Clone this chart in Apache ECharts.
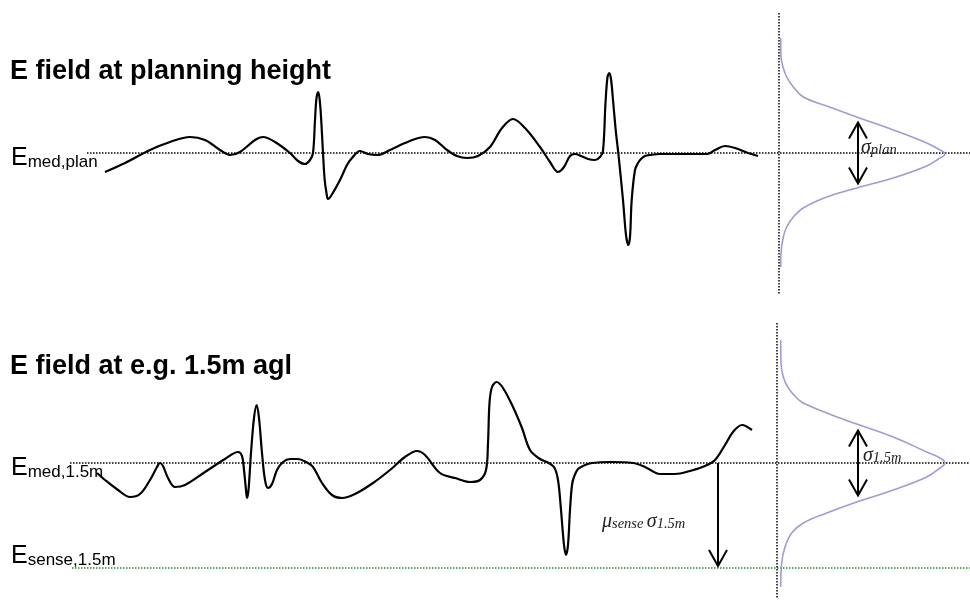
<!DOCTYPE html>
<html>
<head>
<meta charset="utf-8">
<script src="https://cdn.jsdelivr.net/npm/echarts@6/dist/echarts.min.js"></script>
<style>
  html, body { margin: 0; padding: 0; background: #ffffff; }
  #chart { width: 970px; height: 600px; }
</style>
</head>
<body>
<div id="chart"></div>
<script>
// ---- Field trace at planning height (time, deviation from median) ----
const timePlan = [105,125,150,170,190,205,220,230,240,255,263,275,290,298,305,310,313,315,316.5,318.3,320,321.5,323,324.7,326.5,328,331,340,347,352,360,368,377,390,405,425,435,447,457,467,478,490,502,513,525,540,550,558,564,570,575,581,588,595,600,603,605.5,607.5,609.3,611,613,616,618.3,623,626,628.3,630,631.7,635,638,641,645,650,660,690,707,715,725,735,748,758];
const fieldPlan = [-19,-10,3,11,16,13,3,-2,1,13,16,11,0,-8,-11,-7,0,33,55,61,50,28,0,-27,-40,-46,-43,-27,-12,-5,2,-1,-2,3,10,16,13,3,-3,-5,-3,6,25,34,25,6,-9,-19,-14,-3,-1,-3,-6,-7,-4,2,50,76,80,74,53,20,0,-47,-82,-92,-84,-47,-17,-10,-6,-3,-2,-1,-1,-1,3,7,5,0,-3];

// ---- Field trace at 1.5 m above ground ----
const time15 = [97,105,118,130,140,150,157,160,163,168,175,185,205,225,238,242,244,246,247,248.5,251,254,256.7,259,262,265,268,272,277,283,290,298,306,313,322,332,342,355,373,390,405,417,425,440,455,470,480,486,488,489.5,492,496.7,503,513,522,530,540,547,554,558,561,564,566,568,570,572,574,578,585,592,610,633,645,660,675,690,705,715,725,733,742,752];
const field15 = [-10,-17,-27,-34,-31,-17,-4,0,-3,-15,-24,-22,-9,4,11,7,-7,-27,-35,-27,10,45,58,45,10,-17,-25,-21,-7,1,4,4,1,-4,-20,-32,-35,-31,-20,-7,6,12,8,-10,-15,-19,-17,-7,20,60,76,81,75,56,35,13,4,1,-4,-17,-47,-82,-92,-82,-47,-22,-14,-6,-2,0,1,0,-4,-11,-11,-8,-3,3,18,31,38,33];

// ---- Distributions of the field (level vs. density, drawn sideways) ----
const levelsPlan  = [115,96,85,76,66,56,47,36,23,10,4,-1,-6,-13,-25,-35,-44,-55,-64,-74,-84,-100,-114];
const densityPlan = [1.7,2,4.3,7.7,14.3,24.3,47.7,77.7,114.3,147.7,159.3,166,159.3,147.7,114.3,77.7,47.7,24.3,14.3,7.7,4.3,2,1.7];
const levels15    = [123,100,86,75,65,60,50,39,26,11,5,0,-5,-14,-27,-39,-50,-60,-70,-84,-100,-124];
const density15   = [3.7,4,6.3,11.3,19.7,26.3,49.7,79.7,116.3,149.7,163,168,163,149.7,116.3,79.7,49.7,26.3,14.7,8,4.7,3.7];

// ---- Spread and sensing threshold ----
const sigmaPlan = 30.5;
const sigma15 = 32.5;
const senseLevel15 = -105;

// ---- Layout of the reference lines and arrows (axis units) ----
const axisMax = 970;
const distAxisPlan = 779, distAxis15 = 777;
const distSpanPlan = [140, -142], distSpan15 = [140, -135];
const medianStartPlan = 87, medianStart15 = 70, senseStart = 72;
const sigmaArrowX = 858, muArrowX = 718, muArrowTip = -103;
const headHalfWidth = 9, headLength = 16;

const pairs = (xs, ys) => xs.map((x, i) => [x, ys[i]]);
const sideways = (base, dens, lv) => lv.map((l, i) => [base + dens[i], l]);
// open "V" arrow head; dir = 1 points up, -1 points down
const head = (x, tip, dir) => [[x - headHalfWidth, tip - dir * headLength], [x, tip], [x + headHalfWidth, tip - dir * headLength]];

const dotted = { color: '#000000', width: 1.5, type: [1.5, 1.5], cap: 'butt' };
const greenDotted = { color: '#2a8f2a', width: 1.5, type: [1.5, 1.5], cap: 'butt' };
const trace = { color: '#000000', width: 2.2 };
const bell = { color: '#9d9dd4', width: 1.6 };
const arrow = { color: '#000000', width: 2, join: 'miter' };

function line(grid, data, style, smooth, z) {
  return {
    type: 'line', xAxisIndex: grid, yAxisIndex: grid, data: data,
    symbol: 'none', smooth: smooth || false, clip: false,
    lineStyle: style, silent: true, z: z || 2, animation: false
  };
}

const chart = echarts.init(document.getElementById('chart'), null, { renderer: 'canvas' });

chart.setOption({
  animation: false,
  backgroundColor: '#ffffff',
  grid: [
    { left: 0, right: 0, top: 0, height: 306 },
    { left: 0, right: 0, top: 326, height: 274 }
  ],
  xAxis: [
    { type: 'value', gridIndex: 0, min: 0, max: axisMax, show: false },
    { type: 'value', gridIndex: 1, min: 0, max: axisMax, show: false }
  ],
  yAxis: [
    { type: 'value', gridIndex: 0, min: -153, max: 153, show: false },
    { type: 'value', gridIndex: 1, min: -137, max: 137, show: false }
  ],
  series: [
    // planning height panel
    line(0, [[medianStartPlan, 0], [axisMax, 0]], dotted),
    line(0, [[distAxisPlan, distSpanPlan[0]], [distAxisPlan, distSpanPlan[1]]], dotted),
    line(0, pairs(timePlan, fieldPlan), trace, 0.35, 3),
    line(0, sideways(distAxisPlan, densityPlan, levelsPlan), bell, 0.4, 3),
    line(0, [[sigmaArrowX, sigmaPlan], [sigmaArrowX, -sigmaPlan]], arrow, false, 4),
    line(0, head(sigmaArrowX, sigmaPlan, 1), arrow, false, 4),
    line(0, head(sigmaArrowX, -sigmaPlan, -1), arrow, false, 4),
    // 1.5 m panel
    line(1, [[medianStart15, 0], [axisMax, 0]], dotted),
    line(1, [[senseStart, senseLevel15], [axisMax, senseLevel15]], greenDotted),
    line(1, [[distAxis15, distSpan15[0]], [distAxis15, distSpan15[1]]], dotted),
    line(1, pairs(time15, field15), trace, 0.35, 3),
    line(1, sideways(distAxis15, density15, levels15), bell, 0.4, 3),
    line(1, [[sigmaArrowX, sigma15], [sigmaArrowX, -sigma15]], arrow, false, 4),
    line(1, head(sigmaArrowX, sigma15, 1), arrow, false, 4),
    line(1, head(sigmaArrowX, -sigma15, -1), arrow, false, 4),
    line(1, [[muArrowX, 0], [muArrowX, muArrowTip]], arrow, false, 4),
    line(1, head(muArrowX, muArrowTip, -1), arrow, false, 4)
  ]
});

// ---- Text labels, placed from the axis positions ----
const px = (grid, pt) => chart.convertToPixel({ xAxisIndex: grid, yAxisIndex: grid }, pt);
const medPlanY = px(0, [0, 0])[1];
const med15Y = px(1, [0, 0])[1];
const senseY = px(1, [0, senseLevel15])[1];
const sigArrowPx = px(0, [sigmaArrowX, 0])[0];
const muArrowPx = px(1, [muArrowX, 0])[0];

const sans = '"Liberation Sans", Arial, sans-serif';
const serif = '"Liberation Serif", "Times New Roman", serif';

const labelRich = {
  E: { fontFamily: sans, fontSize: 25, lineHeight: 25, verticalAlign: 'bottom', fill: '#000' },
  s: { fontFamily: sans, fontSize: 17, lineHeight: 16, verticalAlign: 'bottom', fill: '#000' }
};
const greekRich = {
  g: { fontFamily: serif, fontStyle: 'italic', fontSize: 20, lineHeight: 20, verticalAlign: 'bottom', fill: '#222' },
  t: { fontFamily: serif, fontStyle: 'italic', fontSize: 14.5, lineHeight: 17, verticalAlign: 'bottom', fill: '#222' }
};

function label(x, top, text, rich) {
  return { type: 'text', x: x, y: top, silent: true, z: 10,
    style: { text: text, rich: rich, align: 'left', verticalAlign: 'top' } };
}
function title(x, mid, text) {
  return { type: 'text', x: x, y: mid, silent: true, z: 10,
    style: { text: text, font: 'bold 27px ' + sans, fill: '#000', align: 'left', verticalAlign: 'middle' } };
}

chart.setOption({
  graphic: [
    title(10, medPlanY - 81, 'E field at planning height'),
    title(10, med15Y - 96.5, 'E field at e.g. 1.5m agl'),
    label(11, medPlanY - 7, '{E|E}{s|med,plan}', labelRich),
    label(11, med15Y - 7, '{E|E}{s|med,1.5m}', labelRich),
    label(11, senseY - 24, '{E|E}{s|sense,1.5m}', labelRich),
    label(sigArrowPx + 3, medPlanY - 15, '{g|σ}{t|plan}', greekRich),
    label(sigArrowPx + 5, med15Y - 17, '{g|σ}{t|1.5m}', greekRich),
    label(muArrowPx - 116, med15Y + 49, '{g|μ}{t|sense} {g|σ}{t|1.5m}', greekRich)
  ]
});
</script>
</body>
</html>
